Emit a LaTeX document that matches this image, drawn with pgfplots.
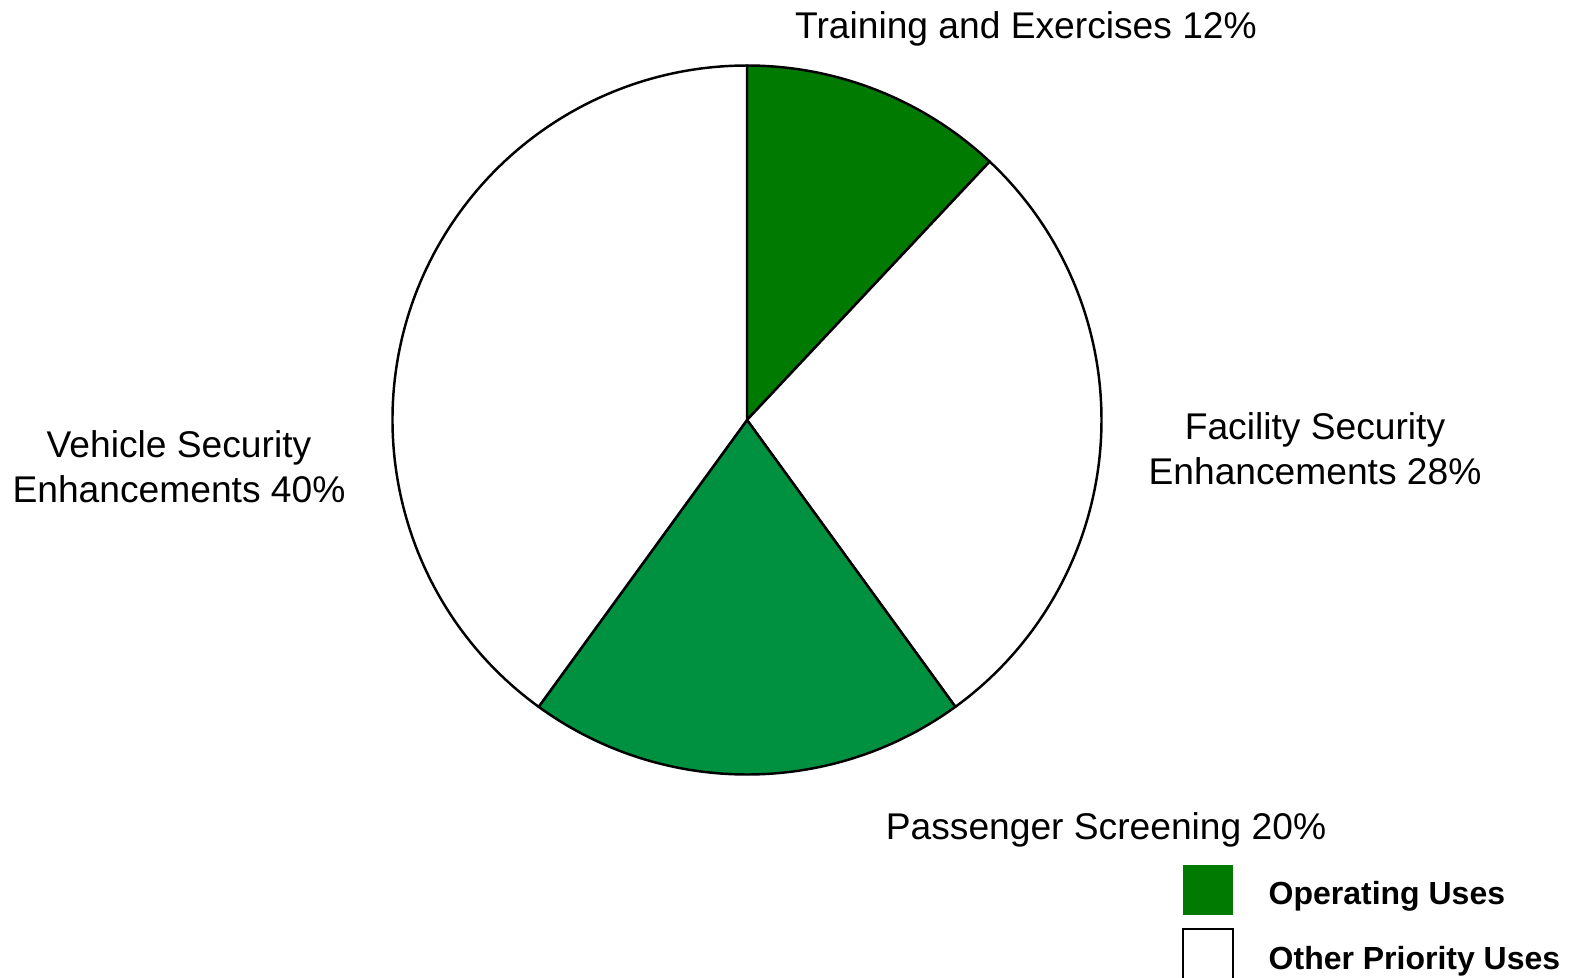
\documentclass[border=0pt]{standalone}
\usepackage{pgfplots}
\pgfplotsset{compat=1.18}
\usepackage{pgfplotstable}
\usepackage{fontspec}
\setmainfont{Liberation Sans}

\definecolor{opgreen}{RGB}{0,122,0}
\definecolor{scrgreen}{RGB}{0,145,64}

% share in percent, clockwise from 12 o'clock
\pgfplotstableread{
share col
12 opgreen
28 white
20 scrgreen
40 white
}\piedata

\begin{document}
\begin{tikzpicture}
\begin{axis}[
hide axis,
scale only axis,
x=0.1mm, y=0.1mm,
xmin=0, xmax=1575,
ymin=0, ymax=977,
clip=false
]
\addplot[draw=none, forget plot] coordinates {(747,557)};
\pgfplotsextra{
  \gdef\startang{90}
  \pgfplotstablegetrowsof{\piedata}
  \pgfmathtruncatemacro\nrows{\pgfplotsretval-1}
  \foreach \i in {0,...,\nrows}{
    \pgfplotstablegetelem{\i}{share}\of\piedata
    \let\share\pgfplotsretval
    \pgfplotstablegetelem{\i}{col}\of\piedata
    \let\col\pgfplotsretval
    \pgfmathsetmacro\endang{\startang-3.6*\share}
    \filldraw[fill=\col, draw=black, line width=0.7pt, line join=round]
      (axis cs:747,557) -- ++(\startang:35.45mm)
      arc[start angle=\startang, end angle=\endang, radius=35.45mm] -- cycle;
    \global\let\startang\endang
  }
}
\coordinate (bl) at (rel axis cs:0,0);
\coordinate (tr) at (rel axis cs:1,1);
% slice labels
\tikzset{lbl/.style={anchor=base, font=\fontsize{10.58}{12.7}\selectfont}}
\node[lbl] at (axis cs:1026,938) {Training and Exercises 12\%};
\node[lbl] at (axis cs:1315,538) {Facility Security};
\node[lbl] at (axis cs:1315,493) {Enhancements 28\%};
\node[lbl] at (axis cs:179,520) {Vehicle Security};
\node[lbl] at (axis cs:179,475) {Enhancements 40\%};
\node[lbl] at (axis cs:1106,138) {Passenger Screening 20\%};
% legend
\fill[opgreen] (axis cs:1183,62) rectangle (axis cs:1233,112);
\draw[black, line width=0.6pt] (axis cs:1183,-10) -- (axis cs:1183,48) -- (axis cs:1233,48) -- (axis cs:1233,-10);
\node[anchor=base west, inner sep=0pt, font=\fontsize{9.1}{10.9}\selectfont\bfseries] at (axis cs:1268,73) {Operating Uses};
\node[anchor=base west, inner sep=0pt, font=\fontsize{9.1}{10.9}\selectfont\bfseries] at (axis cs:1268,8) {Other Priority Uses};
\end{axis}
\pgfresetboundingbox
\path (bl) rectangle (tr);
\end{tikzpicture}
\end{document}
